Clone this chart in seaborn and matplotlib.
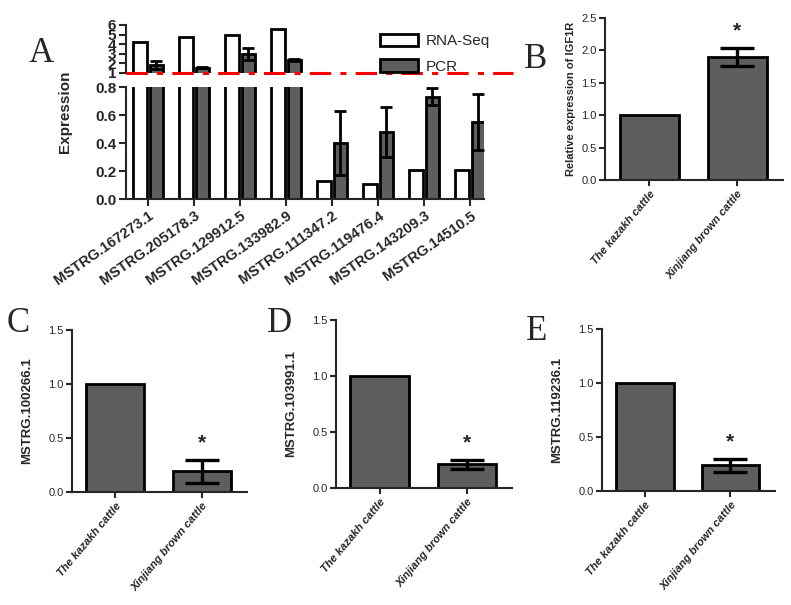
import numpy as np
import pandas as pd
import matplotlib
matplotlib.use("Agg")
import matplotlib.pyplot as plt
import seaborn as sns
from matplotlib.patches import Patch

# ---------------- data ----------------
genes = ["MSTRG.167273.1", "MSTRG.205178.3", "MSTRG.129912.5", "MSTRG.133982.9",
         "MSTRG.111347.2", "MSTRG.119476.4", "MSTRG.143209.3", "MSTRG.14510.5"]
rnaseq = [4.25, 4.8, 4.95, 5.55, 0.13, 0.11, 0.21, 0.21]
pcr = [1.8, 1.57, 2.96, 2.33, 0.40, 0.48, 0.73, 0.55]
pcr_err = [0.4, 0.06, 0.6, 0.1, 0.23, 0.18, 0.06, 0.20]
methods = ["RNA-Seq", "PCR"]

groups = ["The kazakh cattle", "Xinjiang brown cattle"]
igf1r = [1.0, 1.9]
igf1r_err = [0.0, 0.14]
m100266 = [1.0, 0.19]
m100266_err = [0.0, 0.105]
m103991 = [1.0, 0.21]
m103991_err = [0.0, 0.04]
m119236 = [1.0, 0.24]
m119236_err = [0.0, 0.06]

sns.set_theme(style="ticks")
plt.rcParams["font.family"] = ["Liberation Sans", "DejaVu Sans"]
plt.rcParams["axes.linewidth"] = 1.5
plt.rcParams["xtick.major.width"] = 1.5
plt.rcParams["ytick.major.width"] = 1.5

W, H = 791, 605
fig = plt.figure(figsize=(W / 100, H / 100), dpi=100)


def ax_px(x0, y0, x1, y1):
    return fig.add_axes([x0 / W, 1 - y1 / H, (x1 - x0) / W, (y1 - y0) / H])


GRAY = "#5e5e5e"

# ---------------- panel A ----------------
dfA = pd.DataFrame({
    "gene": genes * 2,
    "method": [methods[0]] * len(genes) + [methods[1]] * len(genes),
    "value": rnaseq + pcr,
})

ax_lo = ax_px(126, 87, 484, 199)
ax_up = ax_px(126, 25, 484, 73)

for ax in (ax_lo, ax_up):
    sns.barplot(data=dfA, x="gene", y="value", hue="method", hue_order=methods,
                order=genes, palette={"RNA-Seq": "white", "PCR": GRAY},
                edgecolor="black", linewidth=2, width=0.72, gap=0.18,
                errorbar=None, legend=False, ax=ax)
    cont = ax.containers[1]
    xs = [p.get_x() + p.get_width() / 2 for p in cont.patches]
    hs = [p.get_height() for p in cont.patches]
    ax.errorbar(xs, hs, yerr=pcr_err, fmt="none", ecolor="black",
                elinewidth=2, capsize=4, capthick=2)
    ax.set_xlim(-0.48, 7.3)
    ax.set_xlabel("")

ax_lo.set_ylim(0, 0.8)
ax_lo.set_yticks([0, 0.2, 0.4, 0.6, 0.8])
ax_lo.set_yticklabels(["0.0", "0.2", "0.4", "0.6", "0.8"], fontsize=11, fontweight="bold")
ax_lo.spines["top"].set_visible(False)
ax_lo.spines["right"].set_visible(False)
ax_lo.set_xticks(range(len(genes)))
ax_lo.set_xticklabels(genes, rotation=35, ha="right", rotation_mode="anchor",
                      fontsize=10.5, fontweight="bold")
ax_lo.tick_params(axis="both", length=5, pad=2)
ax_lo.set_ylabel("Expression", fontsize=11, fontweight="bold", labelpad=4)
ax_lo.yaxis.set_label_coords(-0.15, 0.78)

ax_up.set_ylim(1, 6)
ax_up.set_yticks([1, 2, 3, 4, 5, 6])
ax_up.set_yticklabels(["1", "2", "3", "4", "5", "6"], fontsize=11, fontweight="bold")
for s in ("top", "right", "bottom"):
    ax_up.spines[s].set_visible(False)
ax_up.set_xticks([])
ax_up.set_ylabel("")
ax_up.tick_params(axis="y", length=5, pad=2)
ax_up.patch.set_alpha(0)
ax_up.plot([0, 1.08], [0, 0], transform=ax_up.transAxes, color="red",
           ls=(0, (7, 3, 2, 3)), lw=2.2, clip_on=False, zorder=10)

handles = [Patch(facecolor="white", edgecolor="black", linewidth=2, label="RNA-Seq"),
           Patch(facecolor=GRAY, edgecolor="black", linewidth=2, label="PCR")]
fig.legend(handles=handles, loc="upper left", bbox_to_anchor=(366 / W, 1 - 20 / H),
           frameon=False, fontsize=11, handlelength=2.5, handleheight=0.9,
           labelspacing=0.7, handletextpad=0.5)

fig.text(41 / W, 1 - 53 / H, "A", fontsize=25, family="Liberation Serif",
         ha="center", va="center")


# ---------------- panels B-E ----------------
def small_panel(box, values, errs, ylabel, ylim, yticks, ylfs, lpad, letter, lxy):
    ax = ax_px(*box)
    dfx = pd.DataFrame({"group": groups, "value": values})
    sns.barplot(data=dfx, x="group", y="value", order=groups, color=GRAY,
                saturation=1, edgecolor="black", linewidth=2, width=0.67,
                errorbar=None, ax=ax)
    cont = ax.containers[0]
    p = cont.patches[1]
    xc = p.get_x() + p.get_width() / 2
    ax.errorbar([xc], [p.get_height()], yerr=[errs[1]], fmt="none", ecolor="black",
                elinewidth=2.4, capsize=12, capthick=2.4)
    top = p.get_height() + errs[1]
    ax.text(xc, top + 0.07 * ylim[1] / 1.5, "*", ha="center", va="bottom",
            fontsize=15, fontweight="bold")
    ax.set_ylim(*ylim)
    ax.set_yticks(yticks)
    ax.set_yticklabels([f"{t:.1f}" for t in yticks], fontsize=8)
    ax.set_xlim(-0.5, 1.52)
    ax.set_xticks([0, 1])
    ax.set_xticklabels(groups, rotation=50, ha="right", rotation_mode="anchor",
                       fontsize=8, fontweight="bold", style="italic")
    ax.set_xlabel("")
    ax.set_ylabel(ylabel, fontsize=ylfs, fontweight="bold", labelpad=lpad)
    ax.spines["top"].set_visible(False)
    ax.spines["right"].set_visible(False)
    ax.tick_params(axis="both", length=4, pad=2)
    fig.text(lxy[0] / W, 1 - lxy[1] / H, letter, fontsize=25,
             family="Liberation Serif", ha="center", va="center")
    return ax


small_panel((605, 18, 783, 180), igf1r, igf1r_err, "Relative expression of IGF1R",
            (0, 2.5), [0, 0.5, 1.0, 1.5, 2.0, 2.5], 8, 4, "B", (536, 60))
small_panel((72, 330, 247, 492), m100266, m100266_err, "MSTRG.100266.1",
            (0, 1.5), [0, 0.5, 1.0, 1.5], 9.5, 11, "C", (18, 323))
small_panel((336, 320, 512, 488), m103991, m103991_err, "MSTRG.103991.1",
            (0, 1.5), [0, 0.5, 1.0, 1.5], 9.5, 11, "D", (280, 324))
small_panel((602, 329, 775, 491), m119236, m119236_err, "MSTRG.119236.1",
            (0, 1.5), [0, 0.5, 1.0, 1.5], 9.5, 11, "E", (537, 332))

fig.savefig("out.png", dpi=100)
